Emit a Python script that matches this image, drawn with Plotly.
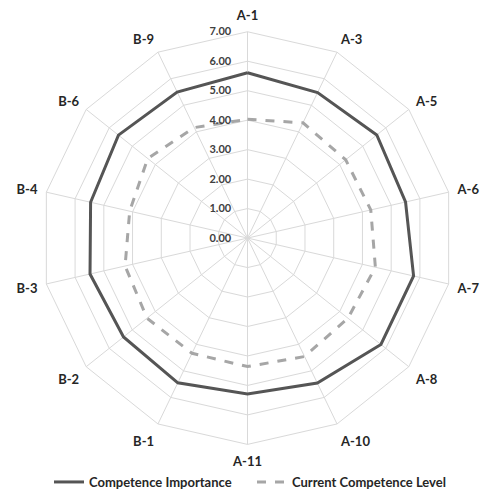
import plotly.graph_objects as go

categories = ["A-1", "A-3", "A-5", "A-6", "A-7", "A-8", "A-10", "A-11",
              "B-1", "B-2", "B-3", "B-4", "B-6", "B-9"]
importance = [5.61, 5.48, 5.61, 5.50, 5.78, 5.79, 5.46, 5.29,
              5.45, 5.38, 5.48, 5.46, 5.60, 5.50]
current = [4.03, 4.34, 4.26, 4.29, 4.45, 4.36, 4.46, 4.36,
           4.34, 4.36, 4.26, 4.10, 4.33, 4.16]
radial_ticks = [0, 1, 2, 3, 4, 5, 6, 7]
radial_labels = ["%.2f" % v for v in radial_ticks]

fig = go.Figure()
fig.add_trace(go.Scatterpolar(
    r=importance + importance[:1], theta=categories + categories[:1],
    mode="lines", name="Competence Importance",
    line=dict(color="#555555", width=3)))
fig.add_trace(go.Scatterpolar(
    r=current + current[:1], theta=categories + categories[:1],
    mode="lines", name="Current Competence Level",
    line=dict(color="#a6a6a6", width=3, dash="dash")))

W, H = 486, 497
cx, cy, R = 247.5, 240.0, 208.0
fig.update_layout(
    width=W, height=H,
    margin=dict(l=0, r=0, t=0, b=0),
    paper_bgcolor="white", plot_bgcolor="white",
    font=dict(family="Lato", size=11, color="#262626", weight="bold"),
    polar=dict(
        domain=dict(x=[(cx - R) / W, (cx + R) / W],
                    y=[1 - (cy + R) / H, 1 - (cy - R) / H]),
        bgcolor="white",
        gridshape="linear",
        angularaxis=dict(
            direction="clockwise", rotation=90,
            categoryorder="array", categoryarray=categories,
            gridcolor="#d9d9d9", gridwidth=1,
            linecolor="#d9d9d9", linewidth=1, showline=True,
            ticks="outside", ticklen=6, tickcolor="rgba(0,0,0,0)",
            tickfont=dict(family="Lato", size=13, color="#262626", weight="bold"),
        ),
        radialaxis=dict(
            range=[0, 7], tickvals=radial_ticks, ticktext=radial_labels,
            angle=90, side="counterclockwise", tickangle=90,
            showline=False, ticks="outside", ticklen=12, tickcolor="rgba(0,0,0,0)",
            gridcolor="#d9d9d9", gridwidth=1,
            tickfont=dict(family="Lato", size=11, color="#404040", weight="bold"),
        ),
    ),
    legend=dict(
        orientation="h", x=(57 - 8) / W, xanchor="left",
        y=1 - 486 / H, yanchor="middle",
        entrywidth=158, entrywidthmode="pixels",
        font=dict(family="Lato", size=13, color="#262626", weight="bold"),
        itemwidth=30, bgcolor="rgba(0,0,0,0)",
    ),
)

fig.write_html("out.html",
               config={"displayModeBar": False},
               post_script="document.body.style.margin='0';document.body.style.overflow='hidden';")
